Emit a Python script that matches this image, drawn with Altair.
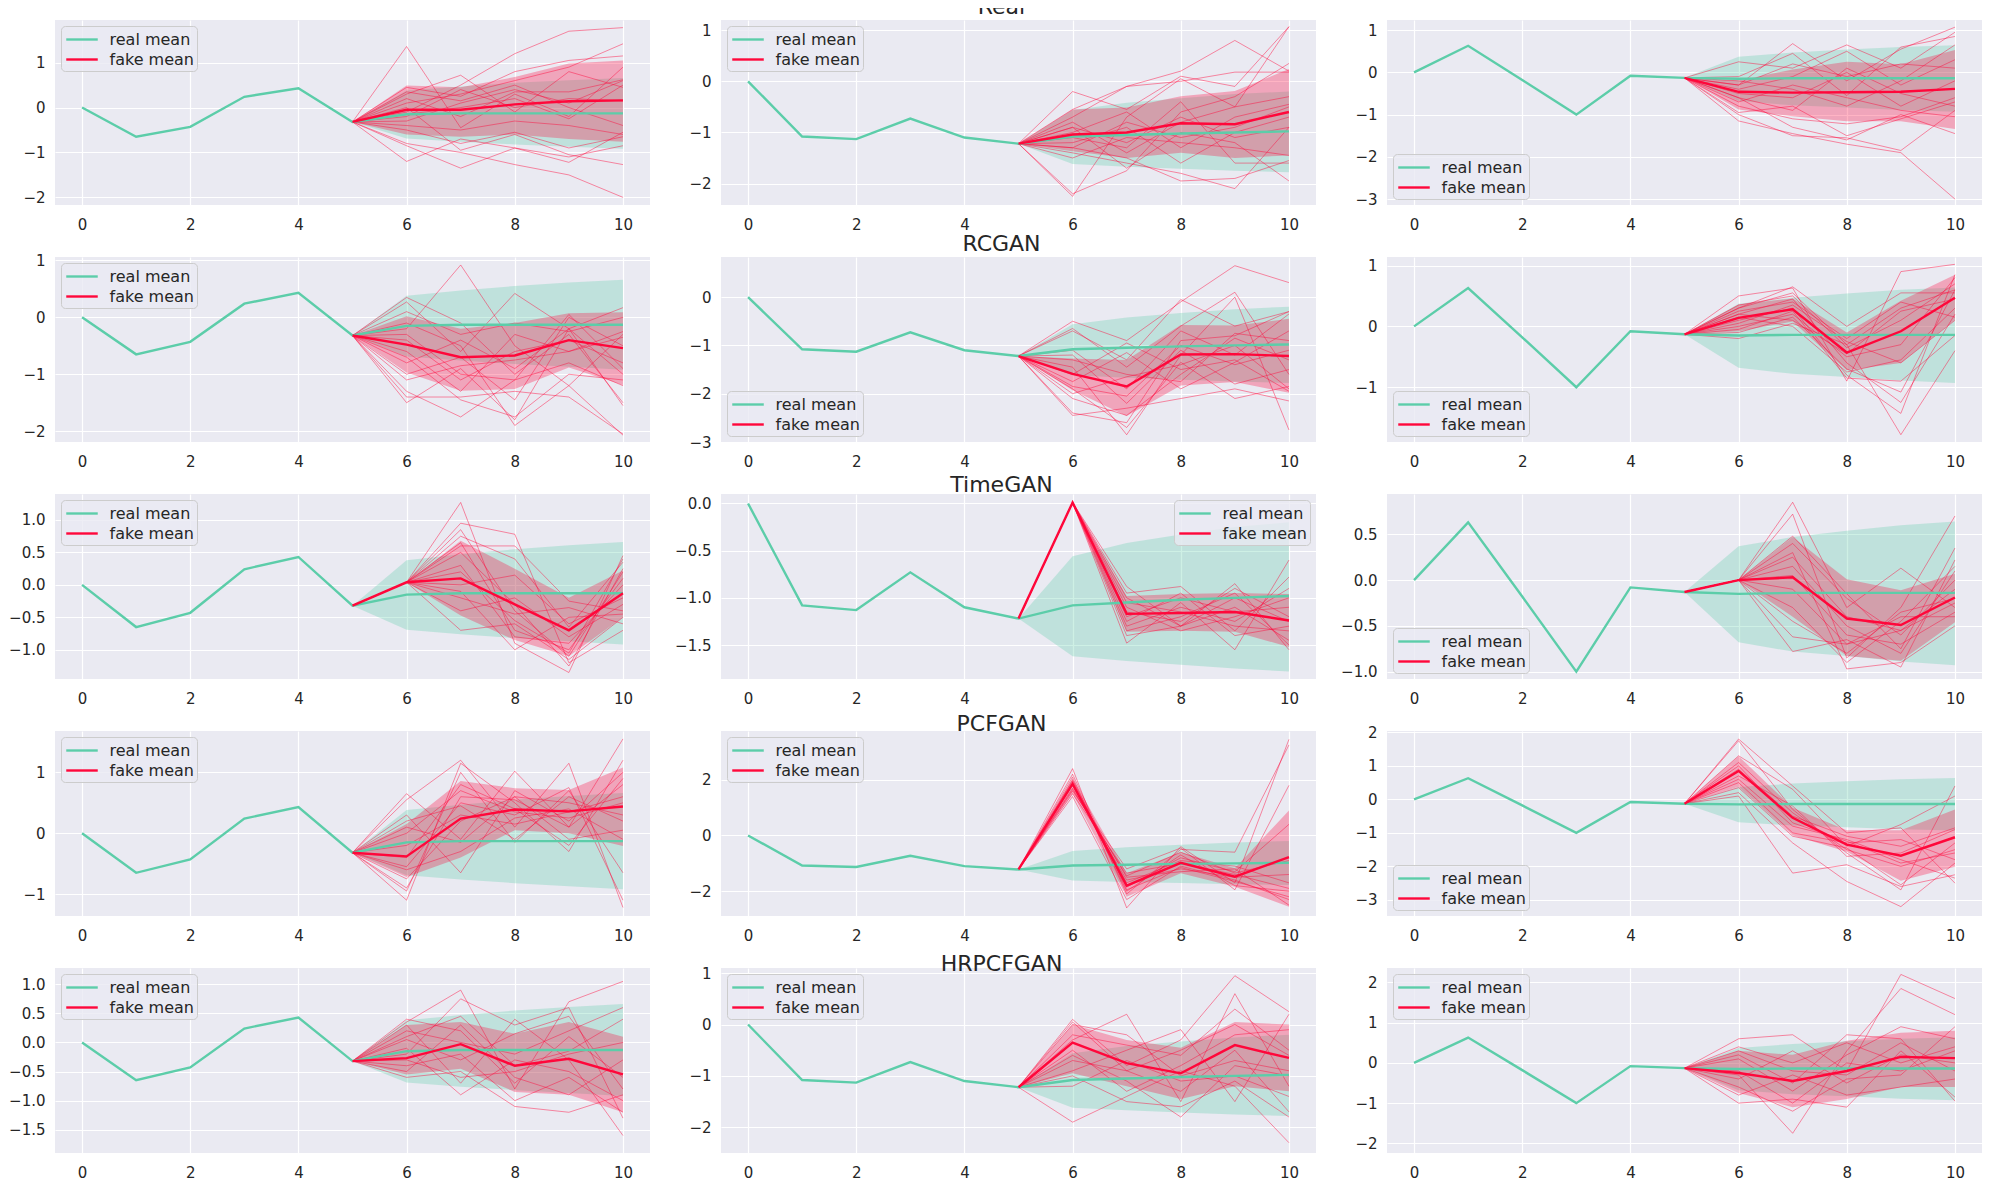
import math
import pandas as pd
import altair as alt

TEAL = "#5ccda9"
RED = "#ff073a"
BG = "#eaeaf2"
INK = "#262626"
FONT = "DejaVu Sans"

X_ALL = list(range(11))
X_FUT = list(range(5, 11))

ROW_TITLES = ["Real", "RCGAN", "TimeGAN", "PCFGAN", "HRPCFGAN"]

# real data per column (same in every row)
REAL_MEAN = [
    [0, -0.65, -0.43, 0.24, 0.43, -0.32, -0.15, -0.13, -0.13, -0.13, -0.13],
    [0, -1.08, -1.13, -0.73, -1.10, -1.22, -1.08, -1.05, -1.02, -1.00, -0.98],
    [0, 0.63, -0.18, -1.00, -0.08, -0.13, -0.15, -0.14, -0.14, -0.14, -0.14],
]
REAL_LO = [
    [-0.32, -0.69, -0.76, -0.82, -0.87, -0.92],
    [-1.22, -1.62, -1.67, -1.71, -1.75, -1.78],
    [-0.13, -0.68, -0.78, -0.83, -0.89, -0.93],
]
REAL_HI = [
    [-0.32, 0.38, 0.47, 0.55, 0.61, 0.66],
    [-1.22, -0.56, -0.42, -0.33, -0.25, -0.20],
    [-0.13, 0.37, 0.47, 0.54, 0.60, 0.64],
]

# fake mean / band per row (model) and column, x = 5..10
FAKE_MEAN = [
    [[-0.32, -0.05, -0.05, 0.07, 0.14, 0.16],
     [-1.22, -1.04, -1.00, -0.82, -0.84, -0.60],
     [-0.13, -0.46, -0.48, -0.47, -0.46, -0.39]],
    [[-0.32, -0.48, -0.70, -0.67, -0.40, -0.54],
     [-1.22, -1.59, -1.85, -1.19, -1.18, -1.22],
     [-0.13, 0.14, 0.28, -0.43, -0.08, 0.47]],
    [[-0.32, 0.04, 0.10, -0.30, -0.70, -0.13],
     [-1.22, 0.01, -1.17, -1.16, -1.15, -1.24],
     [-0.13, 0.00, 0.03, -0.42, -0.49, -0.19]],
    [[-0.32, -0.38, 0.24, 0.39, 0.36, 0.44],
     [-1.22, 1.85, -1.80, -0.98, -1.48, -0.78],
     [-0.13, 0.85, -0.55, -1.35, -1.68, -1.13]],
    [[-0.32, -0.27, -0.03, -0.40, -0.28, -0.55],
     [-1.22, -0.35, -0.75, -0.95, -0.40, -0.65],
     [-0.13, -0.25, -0.45, -0.20, 0.15, 0.12]],
]
FAKE_LO = [
    [[-0.32, -0.60, -0.65, -0.60, -0.70, -0.76],
     [-1.22, -1.37, -1.50, -1.40, -1.50, -1.45],
     [-0.13, -0.88, -1.04, -1.16, -1.16, -1.34]],
    [[-0.32, -0.97, -1.29, -1.26, -0.88, -1.19],
     [-1.22, -1.93, -2.46, -1.83, -1.76, -1.98],
     [-0.13, -0.08, 0.08, -0.72, -0.60, 0.11]],
    [[-0.32, 0.04, -0.47, -0.85, -1.10, -0.50],
     [-1.22, 0.01, -1.36, -1.35, -1.36, -1.52],
     [-0.13, 0.00, -0.40, -0.83, -0.88, -0.46]],
    [[-0.32, -0.72, -0.40, 0.05, 0.00, -0.21],
     [-1.22, 1.50, -2.20, -1.36, -1.84, -2.56],
     [-0.13, 0.38, -1.07, -1.56, -2.43, -2.01]],
    [[-0.32, -0.55, -0.45, -0.85, -0.90, -1.20],
     [-1.22, -0.95, -1.20, -1.45, -1.20, -1.30],
     [-0.13, -0.75, -1.10, -0.90, -0.60, -0.60]],
]
FAKE_HI = [
    [[-0.32, 0.49, 0.45, 0.68, 0.98, 1.05],
     [-1.22, -0.55, -0.51, -0.29, -0.19, 0.24],
     [-0.13, -0.20, 0.07, 0.25, 0.19, 0.53]],
    [[-0.32, 0.02, -0.20, -0.10, 0.07, 0.09],
     [-1.22, -1.27, -1.30, -0.58, -0.59, -0.45],
     [-0.13, 0.36, 0.46, -0.10, 0.42, 0.85]],
    [[-0.32, 0.04, 0.68, 0.25, -0.20, 0.22],
     [-1.22, 0.01, -0.98, -0.96, -0.95, -0.96],
     [-0.13, 0.00, 0.47, 0.01, -0.11, 0.07]],
    [[-0.32, 0.15, 0.86, 0.74, 0.71, 1.08],
     [-1.22, 2.05, -1.36, -0.60, -1.18, 0.90],
     [-0.13, 1.29, -0.25, -0.92, -0.92, -0.30]],
    [[-0.32, 0.30, 0.35, 0.15, 0.35, 0.10],
     [-1.22, 0.00, -0.30, -0.45, 0.05, 0.00],
     [-0.13, 0.30, 0.20, 0.55, 0.75, 0.80]],
]

# individual generated samples, values at x = 6..10 (x = 5 is the last real step)
SAMPLES = [
    [  # Real
        [[1.36, -0.45, 0.30, -0.20, 0.90], [-0.10, 0.50, 1.20, 1.70, 1.78],
         [-1.20, -0.70, -0.90, -1.22, -0.55], [-0.85, -1.35, -0.90, -1.10, -0.85],
         [-0.80, -1.00, -1.27, -1.50, -2.00], [0.30, 0.72, -0.10, 0.80, 0.45],
         [0.00, -0.95, -0.60, -1.05, -1.27], [0.45, 0.25, 0.80, 1.05, 1.15],
         [0.10, 0.30, 0.60, 0.90, 1.42], [-0.30, 0.10, 0.40, 0.10, 0.60],
         [-0.50, -0.80, -0.55, -0.90, -0.65], [0.20, -0.20, 0.35, 0.35, 0.62],
         [-0.15, 0.00, 0.20, -0.25, 0.50], [-0.40, -0.50, -0.30, -0.40, -0.60],
         [0.35, 0.15, 0.50, 0.00, -0.40], [-0.20, 0.40, 0.00, 0.20, 0.15]],
        [[-0.55, -0.10, 0.20, 0.80, 0.20], [-0.20, -0.55, 0.10, -0.10, 1.07],
         [-2.25, -0.70, 0.05, -0.50, 1.07], [-2.20, -1.75, -0.60, -0.30, 0.35],
         [-0.70, -0.10, 0.00, 0.18, 0.18], [-1.40, -1.60, -1.80, -2.10, -0.90],
         [-1.30, -1.50, -1.95, -1.90, -1.55], [-0.90, -1.70, -1.00, -1.20, -1.95],
         [-1.00, -0.60, -1.30, -0.70, -0.45], [-1.10, -1.30, -0.40, -1.60, -1.60],
         [-0.80, -1.40, -0.80, -0.50, -0.30], [-1.20, -0.90, -1.60, -1.00, -0.70],
         [-1.50, -1.10, -1.20, -1.30, -1.45], [-0.90, -1.20, -0.70, -1.10, -0.90],
         [-1.30, -0.80, -1.10, -0.90, -0.50]],
        [[-1.15, -1.45, -1.70, -1.90, -3.00], [0.25, 0.10, 0.65, 0.10, 0.95],
         [-0.30, 0.68, -0.20, 0.55, 1.07], [-0.95, -0.80, -1.50, -1.10, -0.70],
         [-0.10, 0.45, -0.55, 0.60, 0.85], [-0.60, -1.30, -1.60, -1.00, -1.45],
         [-0.40, -0.10, 0.50, -0.30, 0.30], [-0.80, -1.10, -1.22, -1.05, -0.60],
         [-0.50, -0.60, 0.00, -0.80, -0.20], [-0.20, -0.40, -0.80, -0.20, 0.65],
         [-0.70, -0.30, -0.60, -0.90, -1.05], [-0.30, 0.20, -0.10, 0.20, 0.10],
         [-1.00, -1.50, -1.55, -1.85, -0.90], [-0.60, -0.90, 0.10, -0.50, -0.80]],
    ],
    [  # RCGAN
        [[0.35, -0.10, -1.00, -0.30, -1.50], [-0.20, 0.92, -0.50, -1.20, -0.30],
         [0.27, -0.60, 0.42, -0.20, -1.55], [-1.50, -0.90, -1.80, -0.20, 0.17],
         [-1.30, -1.75, -1.10, 0.05, -0.90], [-1.40, -1.40, -1.30, -1.40, -2.05],
         [-0.10, -0.50, -1.90, -1.20, -2.07], [-0.60, -1.30, -0.30, -0.60, -0.25],
         [-1.00, -0.70, -1.45, 0.00, -0.50], [-0.80, -0.40, -0.90, -0.20, -1.00],
         [-0.40, -1.10, -0.60, -0.40, -0.80], [-0.70, -1.45, -1.75, -1.00, -1.10],
         [0.10, -0.30, -0.10, -0.25, 0.00], [-1.10, -0.85, -0.75, -0.60, -0.35],
         [-0.30, -1.00, -1.10, -0.80, -1.20]],
        [[-0.50, -0.90, -0.10, 0.65, 0.30], [-0.70, -1.30, -0.05, -0.60, -0.30],
         [-0.65, -1.45, -0.60, 0.10, -1.60], [-1.45, -2.85, -1.20, 0.00, -2.75],
         [-2.40, -2.60, -0.90, -0.80, -0.30], [-2.45, -2.30, -2.10, -1.90, -2.15],
         [-1.90, -2.70, -1.35, -2.10, -1.85], [-1.30, -1.60, -1.75, -0.75, -0.90],
         [-1.85, -2.05, -1.00, -1.40, -1.10], [-1.60, -0.95, -1.50, -1.30, -1.95],
         [-1.10, -1.90, -0.70, -1.20, -0.35], [-2.10, -2.45, -1.60, -0.85, -1.30],
         [-1.75, -1.15, -1.90, -1.35, -0.70], [-1.20, -2.20, -1.10, -1.80, -1.50],
         [-2.00, -1.65, -1.40, -1.00, -1.90]],
        [[0.50, 0.63, -0.90, 0.90, 1.02], [0.30, 0.65, 0.00, 0.55, 0.55],
         [-0.20, 0.05, -0.30, -1.78, -0.40], [0.10, 0.30, -0.80, -1.43, 0.85],
         [0.20, 0.45, -0.60, -1.25, 0.20], [-0.10, 0.15, -0.70, -1.08, 0.60],
         [0.25, 0.40, -0.20, 0.40, 0.15], [0.00, 0.20, -0.50, -0.30, 0.80],
         [0.15, 0.00, -0.75, -0.55, 0.30], [0.35, 0.50, -0.35, 0.10, 0.70],
         [0.05, 0.35, -0.25, -0.60, 0.10], [0.20, 0.10, -0.45, 0.25, 0.45],
         [-0.05, 0.25, -0.85, -0.90, -0.15], [0.30, 0.55, -0.30, 0.30, 0.60]],
    ],
    [  # TimeGAN
        [[0.04, 1.27, -0.90, -1.35, 0.45], [0.04, 0.95, 0.78, -1.20, -0.70],
         [0.04, 0.85, -0.40, -1.10, 0.20], [0.04, 0.75, 0.40, -0.65, 0.35],
         [0.04, -0.70, -0.60, -1.15, -0.50], [0.04, 0.60, 0.60, -0.25, -0.40],
         [0.04, 0.30, -0.80, -0.90, 0.00], [0.04, 0.50, -0.30, -1.25, 0.25],
         [0.04, -0.10, -1.00, -0.50, -0.45], [0.04, 0.20, -0.55, -1.05, 0.40],
         [0.04, -0.40, -0.20, -0.80, -0.30], [0.04, 0.00, 0.15, -0.60, -0.20],
         [0.04, 0.65, -0.70, -1.00, 0.10], [0.04, -0.20, -0.45, -0.35, -0.60]],
        [[0.01, -0.88, -1.30, -0.85, -1.55], [0.01, -1.48, -1.05, -1.55, -0.60],
         [0.01, -0.95, -0.88, -1.35, -0.78], [0.01, -1.35, -1.20, -0.95, -1.50],
         [0.01, -1.10, -1.35, -1.20, -1.00], [0.01, -1.25, -0.95, -1.40, -1.30],
         [0.01, -1.00, -1.30, -1.10, -1.45], [0.01, -1.30, -1.10, -1.25, -0.90],
         [0.01, -1.15, -1.25, -0.90, -1.20], [0.01, -1.05, -1.15, -1.30, -1.35],
         [0.01, -1.20, -1.00, -1.15, -1.10], [0.01, -1.40, -1.30, -1.00, -1.25]],
        [[0.00, 0.85, -0.30, 0.13, -0.30], [0.00, 0.72, -0.85, -0.30, 0.70],
         [0.00, 0.48, -0.15, -0.75, 0.35], [0.00, -0.62, -0.70, -0.55, -0.10],
         [0.00, -0.78, -0.65, -0.95, 0.22], [0.00, 0.30, -0.97, -0.90, -0.50],
         [0.00, 0.15, -0.50, -0.80, 0.10], [0.00, -0.45, -0.80, -0.35, -0.20],
         [0.00, 0.05, -0.60, -0.70, -0.35], [0.00, 0.40, -0.20, -0.60, 0.00],
         [0.00, -0.10, -0.70, -0.40, -0.40], [0.00, 0.25, -0.40, -0.55, -0.25],
         [0.00, -0.30, -0.90, -0.45, 0.15]],
    ],
    [  # PCFGAN
        [[0.65, -0.10, 1.02, 0.10, 1.55], [0.55, 1.20, 0.10, 1.15, -1.22],
         [-1.10, 1.15, 0.50, -0.30, 1.20], [-0.95, 1.00, -0.15, 0.70, -0.65],
         [0.30, -0.65, 0.70, 0.20, 1.00], [-0.55, 0.50, 0.30, 0.75, -1.10],
         [-0.40, 0.80, 0.40, -0.20, 0.90], [0.10, -0.15, 0.60, 0.50, 0.30],
         [-0.20, 0.30, 0.15, 0.35, 0.60], [-0.90, 0.60, 0.55, 0.10, 0.80],
         [0.20, 0.45, -0.10, 0.60, 0.20], [-0.60, -0.30, 0.25, 0.40, -0.10],
         [0.00, 0.70, 0.35, 0.25, 0.50], [-0.75, 0.20, 0.60, -0.10, 0.05]],
        [[2.40, -2.60, -0.40, -1.70, 3.45], [2.10, -2.10, -0.50, -0.60, 3.25],
         [1.60, -1.20, -0.45, -1.95, 1.80], [1.80, -1.50, -1.30, -1.20, -2.50],
         [1.40, -2.30, -1.10, -1.60, -2.30], [2.00, -1.85, -0.80, -1.30, 0.40],
         [1.70, -1.60, -1.20, -1.50, -1.40], [1.95, -2.00, -0.70, -1.80, -2.00],
         [1.50, -1.35, -1.00, -1.40, -1.90], [1.85, -1.70, -0.90, -1.10, -1.70],
         [2.20, -1.95, -1.15, -1.65, -2.20], [1.65, -1.45, -0.60, -1.35, -0.90]],
        [[1.80, 0.40, -1.00, -0.85, -2.50], [1.75, -0.30, -1.60, -2.70, 0.40],
         [0.10, -2.20, -1.95, -2.60, -2.25], [0.20, -1.30, -2.45, -3.20, -1.90],
         [1.30, 0.30, -1.40, -0.75, 0.10], [0.60, -0.80, -1.20, -1.80, -2.35],
         [0.90, -0.50, -1.10, -1.40, -0.85], [1.10, -0.40, -1.50, -2.00, -1.50],
         [0.50, -1.00, -1.30, -1.20, -1.80], [0.70, -0.20, -1.70, -1.60, -0.90],
         [1.00, -0.70, -1.25, -1.90, -1.60], [0.35, -1.10, -1.45, -2.55, -1.30]],
    ],
    [  # HRPCFGAN
        [[0.35, 0.90, -0.80, 0.70, 1.05], [-0.20, 0.75, 0.30, 0.60, -1.30],
         [0.30, -0.70, 0.40, -0.30, -1.60], [-0.60, -0.50, -1.10, -1.20, -0.90],
         [0.10, 0.45, -0.40, -0.15, 0.40], [-0.40, -0.20, -1.00, -0.60, -1.20],
         [0.20, 0.00, -0.20, 0.20, 0.60], [-0.50, 0.30, -0.60, -0.90, -0.30],
         [0.05, -0.30, 0.15, 0.45, -0.80], [-0.30, -0.60, -0.50, -0.20, 0.00],
         [0.40, 0.20, -0.70, 0.10, -0.60], [-0.10, -0.90, -0.30, -0.50, -1.00]],
        [[0.10, -0.80, -0.30, 0.95, 0.25], [-0.30, 0.20, -1.50, 0.60, -1.20],
         [-0.90, -0.50, -0.10, -1.50, 0.20], [-1.90, -1.40, -0.90, -1.20, -2.30],
         [0.05, -0.90, -1.30, -0.50, -1.70], [-0.60, -1.10, -1.80, -0.80, -1.00],
         [-0.20, -0.40, -0.60, 0.30, -0.50], [-1.20, -0.70, -1.10, -1.00, -1.40],
         [-0.50, -1.30, -0.80, -0.20, -0.10], [0.00, -0.20, -1.00, -0.70, -0.90],
         [-0.70, -0.90, -0.50, 0.00, -0.60], [-1.00, -1.50, -1.60, -1.10, -1.80]],
        [[0.60, 0.70, -0.20, 2.20, 1.60], [-0.30, -1.75, 0.30, 1.85, 1.20],
         [-1.00, -0.90, -1.10, 0.30, -0.85], [0.20, -0.50, 0.70, 0.60, -0.95],
         [-0.60, -1.20, -0.40, -0.30, 0.90], [0.40, 0.00, 0.50, 0.00, 0.40],
         [-0.80, -0.30, -0.80, -0.60, -0.40], [0.10, -0.70, 0.20, 0.90, 0.60],
         [-0.40, 0.30, -0.50, 0.20, 0.00], [-0.20, -1.00, 0.00, -0.20, 0.30],
         [0.30, -0.20, -0.30, 0.50, -0.20]],
    ],
]

Y_DOMAINS = [
    [[-2.17, 1.95], [-2.42, 1.20], [-3.14, 1.24]],
    [[-2.19, 1.06], [-3.00, 0.83], [-1.90, 1.14]],
    [[-1.45, 1.40], [-1.86, 0.10], [-1.08, 0.94]],
    [[-1.36, 1.68], [-2.89, 3.75], [-3.48, 2.04]],
    [[-1.90, 1.28], [-2.50, 1.10], [-2.24, 2.36]],
]
Y_STEPS = [
    [1, 1, 1],
    [1, 1, 1],
    [0.5, 0.5, 0.5],
    [1, 2, 1],
    [0.5, 1, 1],
]
LEGEND_POS = [
    ["top-left", "top-left", "bottom-left"],
    ["top-left", "bottom-left", "bottom-left"],
    ["top-left", "top-right", "bottom-left"],
    ["top-left", "top-left", "bottom-left"],
    ["top-left", "top-left", "top-left"],
]
TITLE_DY = [0, 0, 4, 6, 11]
X_TICKS = [0, 2, 4, 6, 8, 10]

PANEL_W = 595
PANEL_H = 185


def panel(r, c):
    d_lo, d_hi = Y_DOMAINS[r][c]
    step = Y_STEPS[r][c]
    k0 = math.ceil(d_lo / step - 1e-9)
    k1 = math.floor(d_hi / step + 1e-9)
    ticks = [round(k * step, 3) for k in range(k0, k1 + 1)]
    fmt = ".1f" if step < 1 else "d"

    xenc = alt.X("x:Q", scale=alt.Scale(domain=[-0.5, 10.5], nice=False, zero=False),
                 axis=alt.Axis(values=X_TICKS, format="d", title=None))
    yscale = alt.Scale(domain=[d_lo, d_hi], nice=False, zero=False)
    yaxis = alt.Axis(values=ticks, format=fmt, title=None)

    real_band = pd.DataFrame({"x": X_FUT, "lo": REAL_LO[c], "hi": REAL_HI[c]})
    fake_band = pd.DataFrame({"x": X_FUT, "lo": FAKE_LO[r][c], "hi": FAKE_HI[r][c]})

    srows = []
    for i, s in enumerate(SAMPLES[r][c]):
        vals = [REAL_MEAN[c][5]] + list(s)
        for x, v in zip(X_FUT, vals):
            srows.append({"id": i, "x": x, "y": v})
    samples = pd.DataFrame(srows)

    mrows = [{"series": "real mean", "x": x, "y": v} for x, v in zip(X_ALL, REAL_MEAN[c])]
    mrows += [{"series": "fake mean", "x": x, "y": v} for x, v in zip(X_FUT, FAKE_MEAN[r][c])]
    means = pd.DataFrame(mrows)

    l_real = alt.Chart(real_band).mark_area(color=TEAL, opacity=0.3, clip=True).encode(
        x=xenc, y=alt.Y("lo:Q", scale=yscale, axis=yaxis), y2="hi:Q")
    l_fake = alt.Chart(fake_band).mark_area(color=RED, opacity=0.3, clip=True).encode(
        x=xenc, y=alt.Y("lo:Q", scale=yscale, axis=yaxis), y2="hi:Q")
    l_samp = alt.Chart(samples).mark_line(color=RED, strokeWidth=0.9, opacity=0.5, clip=True).encode(
        x=xenc, y=alt.Y("y:Q", scale=yscale, axis=yaxis), detail="id:N")
    l_mean = alt.Chart(means).mark_line(strokeWidth=2.4, clip=True).encode(
        x=xenc,
        y=alt.Y("y:Q", scale=yscale, axis=yaxis),
        color=alt.Color(
            "series:N",
            scale=alt.Scale(domain=["real mean", "fake mean"], range=[TEAL, RED]),
            legend=alt.Legend(
                orient=LEGEND_POS[r][c], offset=6, title=None,
                symbolType="M-1.75,0H1.75", symbolSize=324, symbolStrokeWidth=2.4,
                symbolOffset=7.5, labelOffset=17, labelFontSize=16, labelFont=FONT,
                labelColor=INK, padding=3, rowPadding=1,
                fillColor="rgba(234,234,242,0.8)", strokeColor="#cccccc",
                cornerRadius=4,
            ),
        ),
    )
    props = dict(width=PANEL_W, height=PANEL_H)
    if c == 1:
        props["title"] = alt.TitleParams(text=ROW_TITLES[r], fontSize=22, font=FONT,
                                         fontWeight="normal", color=INK, offset=1,
                                         anchor="middle", dx=-17, dy=TITLE_DY[r])
    return alt.layer(l_real, l_fake, l_samp, l_mean).properties(**props)


panels = [panel(r, c) for r in range(5) for c in range(3)]

chart = alt.concat(
    *panels, columns=3, spacing={"row": 52, "column": 71}, bounds="flush"
).resolve_scale(
    x="independent", y="independent", color="independent"
).properties(
    padding={"left": 0, "top": -12, "right": 0, "bottom": 4}
).configure_view(
    fill=BG, stroke=None
).configure_axis(
    grid=True, gridColor="white", gridWidth=1.2, domain=False, ticks=False,
    labelFont=FONT, labelFontSize=15, labelColor=INK,
).configure_axisY(
    labelPadding=10
).configure_axisX(
    labelPadding=12
)

chart.save("out.html", embed_options={"renderer": "svg", "actions": False})
